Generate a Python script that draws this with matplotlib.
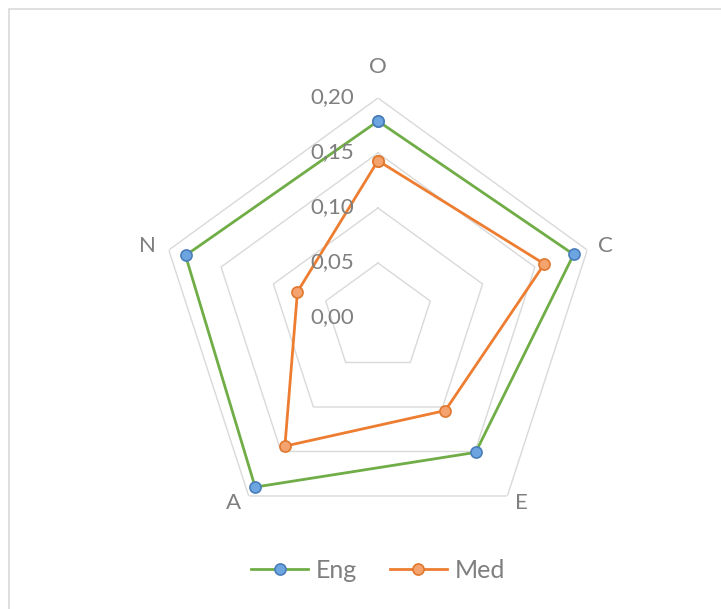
import numpy as np
import matplotlib.pyplot as plt
from matplotlib.patches import Rectangle

categories = ['O', 'C', 'E', 'A', 'N']
eng = [0.179, 0.187, 0.151, 0.190, 0.184]
med = [0.143, 0.159, 0.104, 0.144, 0.077]
levels = [0.05, 0.10, 0.15, 0.20]
level_labels = ['0,00', '0,05', '0,10', '0,15', '0,20']

# label offsets from the outer vertex, in pixels
label_offsets = [(0, 31), (18, 4), (14, -7), (-15, -7), (-21, 4)]

text_color = '#7F7F7F'
grid_color = '#D9D9D9'
plt.rcParams['font.family'] = ['Lato', 'DejaVu Sans']


def closed(vals):
    return list(vals) + [vals[0]]


def main():
    fig = plt.figure(figsize=(7.21, 6.09), dpi=100)
    fig.patches.append(Rectangle((9 / 721, -0.1), 1.2, 1.1 - 9 / 609,
                                 transform=fig.transFigure, fill=False,
                                 edgecolor=grid_color, linewidth=1.2))

    ax = fig.add_axes([158 / 721, 71 / 609, 440 / 721, 440 / 609],
                      projection='polar')
    ax.set_theta_zero_location('N')
    ax.set_theta_direction(-1)
    ax.set_ylim(0, 0.2)
    ax.grid(False)
    ax.spines['polar'].set_visible(False)
    ax.set_xticks([])
    ax.set_yticks([])
    ax.patch.set_alpha(0)

    n = len(categories)
    theta = np.linspace(0, 2 * np.pi, n, endpoint=False)
    th = closed(theta)

    # pentagon gridlines
    for lv in levels:
        ax.plot(th, [lv] * (n + 1), color=grid_color, lw=1.0, zorder=1)

    ax.plot(th, closed(eng), color='#70AD47', lw=2.0, marker='o',
            markersize=8, markerfacecolor='#6CA5E0',
            markeredgecolor='#4A7EBB', markeredgewidth=1.2, zorder=3,
            label='Eng')
    ax.plot(th, closed(med), color='#ED7D31', lw=2.0, marker='o',
            markersize=8, markerfacecolor='#F4A26E',
            markeredgecolor='#E0782E', markeredgewidth=1.2, zorder=3,
            label='Med')

    # radial value labels, left of the vertical axis
    for i, lab in enumerate(level_labels):
        ax.annotate(lab, xy=(0, i * 0.05), xytext=(-24, 1),
                    textcoords='offset pixels', ha='right', va='center',
                    fontsize=16, color=text_color)

    for t, c, off in zip(theta, categories, label_offsets):
        ax.annotate(c, xy=(t, 0.2), xytext=off, textcoords='offset pixels',
                    ha='center', va='center', fontsize=16, color=text_color)

    fig.legend(loc='center', bbox_to_anchor=(378 / 721, 1 - 570 / 609),
               ncol=2, frameon=False, fontsize=18, labelcolor=text_color,
               handlelength=2.3, columnspacing=1.3, handletextpad=0.3)

    fig.savefig('out.png', dpi=100)


if __name__ == "__main__":
    main()
